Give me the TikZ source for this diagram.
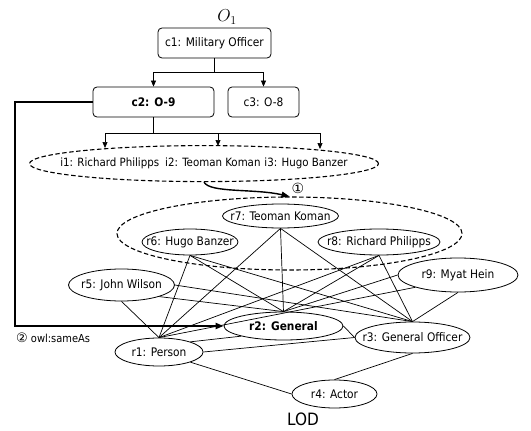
\documentclass[tikz,border=0pt]{standalone}
\usepackage{fontspec}
\setmainfont{DejaVu Sans Condensed}
\newfontfamily\symfont{DejaVu Sans}
\usetikzlibrary{arrows.meta,shapes.geometric}

\begin{document}
\begin{tikzpicture}[x=1pt,y=-1pt,
  font=\fontsize{11.8}{13}\selectfont,
  cls/.style={draw, rounded corners=4pt, line width=0.8pt, inner sep=0pt},
  ell/.style={draw, ellipse, inner sep=0pt, line width=0.8pt},
  grp/.style={draw, ellipse, inner sep=0pt, line width=1.1pt, dash pattern=on 4.5pt off 2.5pt},
  lnk/.style={line width=0.7pt},
  tip/.style={-{Triangle[length=6pt,width=5pt]}},
  bigtip/.style={-{Triangle[length=8pt,width=6pt]}},
  txt/.style={inner sep=0pt}]

\useasboundingbox (0,0) rectangle (531,431);

% ontology O1
\node[txt, font=\fontsize{17}{17}\selectfont] (o1) at (227,17) {$O_1$};
\node[cls, minimum width=113pt, minimum height=30pt] (c1) at (214.5,43) {c1: Military Officer};
\node[cls, minimum width=121pt, minimum height=30pt] (c2) at (153.5,102) {\bfseries c2: O-9};
\node[cls, minimum width=71pt, minimum height=30pt] (c3) at (263.5,102) {c3: O-8};

% instances of c2
\node[grp, minimum width=349pt, minimum height=36pt, font=\fontsize{11.4}{13}\selectfont] (iell) at (204,163.6)
  {\makebox[0pt]{i1: Richard Philipps\hspace{6pt}i2: Teoman Koman\hspace{4pt}i3: Hugo Banzer}};

% class hierarchy
\draw[lnk] (c1.south) -- ++(0,14) coordinate (j1);
\draw[lnk, tip] (j1) -| (c2.north);
\draw[lnk, tip] (j1) -| (c3.north);

\coordinate (t1) at (105,148);
\coordinate (t2) at (218,146);
\coordinate (t3) at (320,149);
\draw[lnk] (c2.south) -- ++(0,16) coordinate (j2);
\draw[lnk, tip] (j2) -| (t1);
\draw[lnk, tip] (j2) -| (t2);
\draw[lnk, tip] (j2) -| (t3);

% LOD resources
\node[grp, minimum width=345pt, minimum height=73pt] (grp) at (289.5,233.5) {};
\node[ell, minimum width=116pt, minimum height=24pt] (r7) at (280.5,216) {\makebox[0pt]{r7: Teoman Koman}};
\node[ell, minimum width=96pt, minimum height=26pt] (r6) at (190,242) {\makebox[0pt]{r6: Hugo Banzer}};
\node[ell, minimum width=122pt, minimum height=26pt] (r8) at (379,242) {\makebox[0pt]{r8: Richard Philipps}};
\node[ell, minimum width=106pt, minimum height=32pt] (r5) at (121.5,285) {\makebox[0pt]{r5: John Wilson}};
\node[ell, minimum width=120pt, minimum height=34pt] (r9) at (458,275) {\makebox[0pt]{r9: Myat Hein}};
\node[ell, minimum width=119pt, minimum height=28pt] (r2) at (283.5,326) {\makebox[0pt]{\bfseries r2: General}};
\node[ell, minimum width=115pt, minimum height=31pt] (r3) at (412.5,337.5) {\makebox[0pt]{r3: General Officer}};
\node[ell, minimum width=88pt, minimum height=28pt] (r1) at (159,352) {\makebox[0pt]{r1: Person}};
\node[ell, minimum width=85pt, minimum height=28pt] (r4) at (334.5,394) {\makebox[0pt]{r4: Actor}};

% links between resources
\draw[lnk] (r1.north) -- (r5.south);
\draw[lnk] (r1.north) -- (r6.south);
\draw[lnk] (r1.north) -- (r7.south);
\draw[lnk] (r1.north) -- (r8.south);
\draw[lnk] (r1.north) -- (r9.south west);
\draw[lnk] (r2.north) -- (r5.south east);
\draw[lnk] (r2.north) -- (r6.south);
\draw[lnk] (r2.north) -- (r7.south);
\draw[lnk] (r2.north) -- (r8.south);
\draw[lnk] (r2.north) -- (r9.west);
\draw[lnk] (r3.north) -- (r5.east);
\draw[lnk] (r3.north) -- (r6.south);
\draw[lnk] (r3.north) -- (r7.south);
\draw[lnk] (r3.north) -- (r8.south);
\draw[lnk] (r3.north) -- (r9.south);
\draw[lnk] (r1.north east) -- (r2.south west);
\draw[lnk] (r1.east) -- (r3.west);
\draw[lnk] (r2.east) -- (r3.west);
\draw[lnk] (r1.south east) -- (r4.west);
\draw[lnk] (r3.south) -- (r4.north);

% step 1: instance matching
\draw[line width=1.4pt, bigtip] (iell.south) .. controls +(6,11) and +(-35,-8) .. (grp.north);
\node[txt, font=\fontsize{14}{14}\selectfont\symfont] (s1) at (298,188) {①};

% step 2: owl:sameAs
\coordinate (bend) at (15,0);
\draw[line width=2pt, bigtip] (c2.west) -- (c2.west -| bend) -- (r2.west -| bend) -- (r2.west);
\node[txt, anchor=west, font=\fontsize{11}{12}\selectfont] (s2) at (16,338) {{\fontsize{13}{13}\selectfont\symfont ②} owl:sameAs};

\node[txt, font=\fontsize{17}{17}\selectfont] (lod) at (303,419) {LOD};
\end{tikzpicture}
\end{document}
